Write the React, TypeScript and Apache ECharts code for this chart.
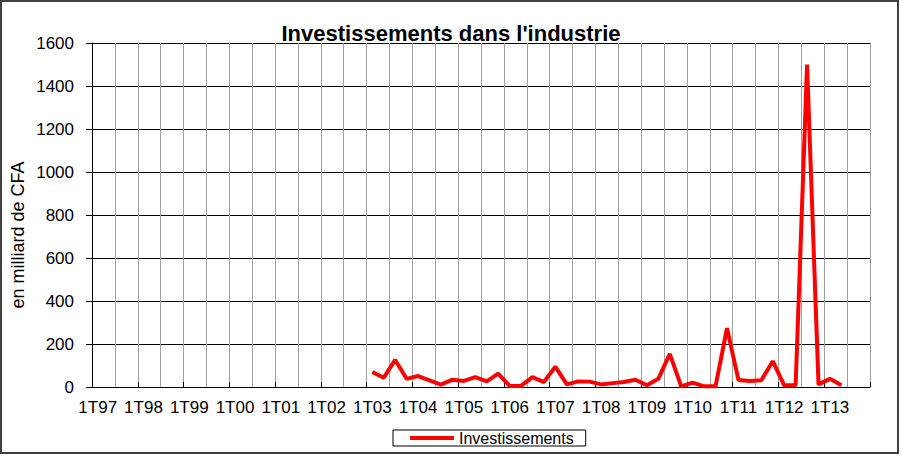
import React, { useEffect, useRef } from "react";
import * as echarts from "echarts";

const years: string[] = ["97","98","99","00","01","02","03","04","05","06","07","08","09","10","11","12","13"];
const quarters: string[] = ["1", "2", "3", "4"];
const categories: string[] = years.flatMap((y) => quarters.map((q) => `${q}T${y}`));

// values from 1T03 to 2T13 (en milliard de CFA)
const firstIndex = 24;
const investValues: number[] = [
  70, 43, 126, 38, 51, 31, 11, 34,
  28, 46, 26, 62, 5, 5, 46, 23,
  95, 12, 26, 25, 12, 18, 23, 34,
  8, 38, 154, 3, 20, 3, 3, 274,
  33, 28, 31, 120, 8, 8, 1500, 12,
  38, 8,
];
const seriesData: (number | null)[] = categories.map((_, i) => {
  const k = i - firstIndex;
  return k >= 0 && k < investValues.length ? investValues[k] : null;
});

const yTicks = { min: 0, max: 1600, interval: 200 };
const titleText = "Investissements dans l'industrie";
const yName = "en milliard de CFA";
const seriesName = "Investissements";

export default function App() {
  const ref = useRef<HTMLDivElement>(null);
  useEffect(() => {
    document.body.style.margin = "0";
    if (!ref.current) return;
    const chart = echarts.init(ref.current, null, { renderer: "svg" });
    const font = "Liberation Sans, Arial, sans-serif";
    chart.setOption({
      animation: false,
      backgroundColor: "#ffffff",
      textStyle: { fontFamily: font },
      title: {
        text: titleText,
        left: "center",
        top: 22,
        padding: 0,
        textStyle: { fontSize: 22, fontWeight: "bold", color: "#000", fontFamily: font },
      },
      grid: { left: 92, right: 32, top: 43, bottom: 70, containLabel: false },
      legend: {
        data: [{ name: seriesName, icon: "rect" }],
        left: 393,
        top: 430,
        padding: [0, 12, 0, 17],
        borderColor: "#000",
        borderWidth: 1,
        itemWidth: 44,
        itemHeight: 4,
        itemStyle: { color: "#ff0000" },
        textStyle: { fontSize: 16, color: "#000", fontFamily: font, lineHeight: 15 },
      },
      xAxis: {
        type: "category",
        data: categories,
        boundaryGap: true,
        axisLine: { show: true, lineStyle: { color: "#000", width: 1 } },
        axisTick: { show: true, inside: true, length: 5, interval: 3, lineStyle: { color: "#000" } },
        axisLabel: { interval: 3, fontSize: 17, color: "#000", margin: 12, fontFamily: font },
        splitLine: { show: true, interval: 1, lineStyle: { color: "#a0a0a0", width: 1 } },
      },
      yAxis: {
        type: "value",
        min: yTicks.min,
        max: yTicks.max,
        interval: yTicks.interval,
        axisLine: { show: true, lineStyle: { color: "#000", width: 1 } },
        axisTick: { show: true, inside: false, length: 6, lineStyle: { color: "#000" } },
        axisLabel: {
          fontSize: 17,
          color: "#000",
          margin: 18,
          fontFamily: font,
          formatter: (v: number) => String(v),
        },
        splitLine: { show: true, lineStyle: { color: "#000", width: 1 } },
      },
      series: [
        {
          name: seriesName,
          type: "line",
          data: seriesData,
          showSymbol: false,
          symbol: "none",
          connectNulls: false,
          lineStyle: { color: "#ff0000", width: 4 },
          itemStyle: { color: "#ff0000" },
          z: 5,
        },
      ],
      graphic: [
        {
          type: "text",
          x: 18,
          y: 235,
          rotation: Math.PI / 2,
          style: {
            text: yName,
            fontSize: 18,
            fill: "#000",
            fontFamily: font,
            textAlign: "center",
            textVerticalAlign: "middle",
          },
        },
        {
          type: "rect",
          shape: { x: 1, y: 1, width: 897, height: 452 },
          style: { fill: "none", stroke: "#404040", lineWidth: 2 },
          silent: true,
        },
      ],
    });
    return () => chart.dispose();
  }, []);
  return (
    <div
      ref={ref}
      style={{ position: "absolute", left: 0, top: 0, width: 902, height: 457 }}
    />
  );
}
